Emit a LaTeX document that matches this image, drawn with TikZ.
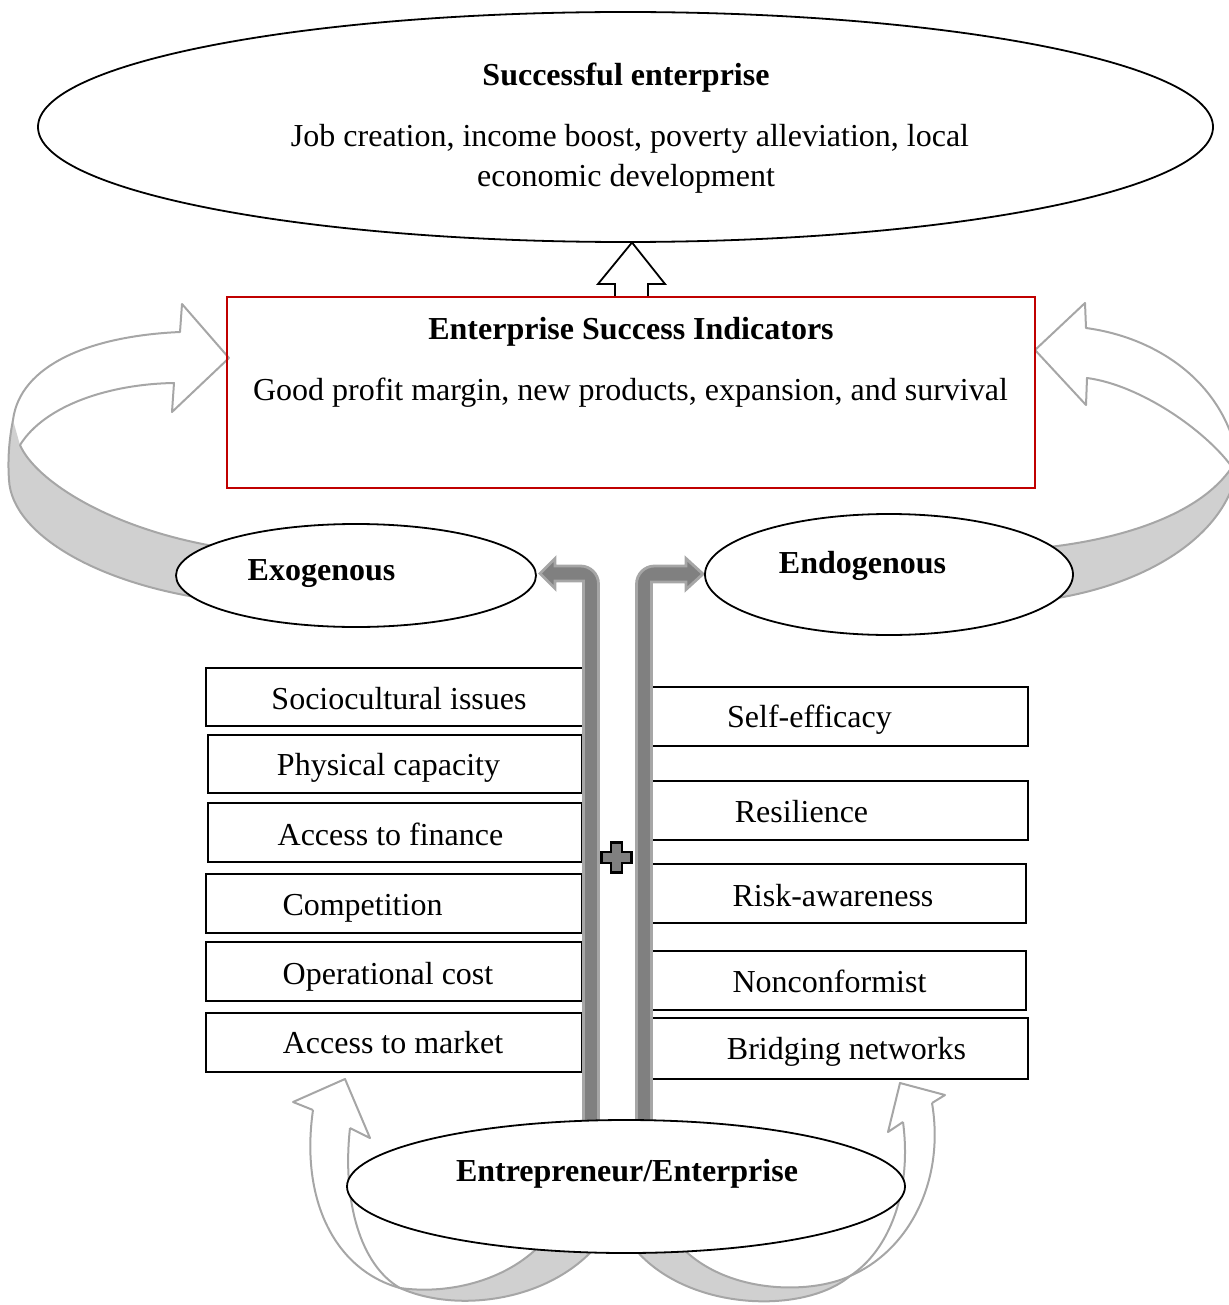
\documentclass[tikz,border=0pt]{standalone}
\usepackage{fontspec}
\setmainfont{Liberation Serif}
\usetikzlibrary{shapes.geometric}
\definecolor{ribbonline}{HTML}{A6A6A6}
\definecolor{bandfill}{HTML}{D0D0D0}
\definecolor{bardark}{HTML}{808080}
\definecolor{barlight}{HTML}{A6A6A6}
\definecolor{boxred}{HTML}{C00000}

\begin{document}
\begin{tikzpicture}[x=0.5pt,y=-0.5pt,
  every node/.style={font=\fontsize{16}{20.5}\selectfont},
  oval/.style={ellipse, draw=black, line width=0.9pt, fill=white, inner sep=0pt},
  factor/.style={rectangle, draw=black, line width=0.8pt, inner sep=0pt},
  lbl/.style={anchor=base, inner sep=0pt},
  hd/.style={lbl, font=\fontsize{16}{20.5}\selectfont\bfseries},
  rib/.style={draw=ribbonline, line width=1pt, line join=round},
  band/.style={fill=bandfill},
  bar/.style={fill=bardark, draw=barlight, line width=1.4pt, line join=miter},
]
\useasboundingbox (0,0) rectangle (1229,1305);

\begin{scope}
\clip (0,0) rectangle (1229,1305);
% ribbon from the exogenous factors up to the indicators
\fill[band] (13,420) .. controls (8,445) and (8,465) .. (9,480) .. controls (12,535) and (100,585) .. (215,600) -- (225,548) .. controls (110,530) and (35,480) .. (20,445) -- cycle;
\draw[rib] (13,420) .. controls (8,445) and (8,465) .. (9,480) .. controls (12,535) and (100,585) .. (215,600);
\draw[rib] (225,548) .. controls (110,530) and (35,480) .. (20,445);
\draw[rib] (13,420) .. controls (20,365) and (90,336) .. (180,332) -- (182,304) -- (229,358) -- (172,412) -- (174,383) .. controls (110,384) and (45,405) .. (20,445);

% ribbon from the endogenous factors up to the indicators
\fill[band] (1232,467) -- (1236,475) .. controls (1222,535) and (1150,585) .. (1045,600) -- (1040,548) .. controls (1120,540) and (1200,515) .. (1232,467) -- cycle;
\draw[rib] (1236,475) .. controls (1222,535) and (1150,585) .. (1045,600);
\draw[rib] (1040,548) .. controls (1120,540) and (1200,515) .. (1232,467);
\draw[rib] (1238,460) .. controls (1225,385) and (1160,338) .. (1086,328) -- (1085,303) -- (1035,350) -- (1086,405) -- (1087,378) .. controls (1140,385) and (1205,430) .. (1232,467);

% ribbon from the entrepreneur to the exogenous factors
\fill[band] (400,1288) .. controls (460,1315) and (560,1300) .. (605,1235) -- (545,1240) .. controls (510,1280) and (450,1295) .. (400,1288) -- cycle;
\draw[rib] (313,1110) .. controls (300,1200) and (335,1270) .. (400,1288) .. controls (460,1315) and (560,1300) .. (605,1235);
\draw[rib] (350,1128) .. controls (342,1200) and (360,1265) .. (400,1288) .. controls (450,1295) and (510,1280) .. (545,1240);
\draw[rib] (313,1110) -- (293,1102) -- (345,1079) -- (370,1138) -- (350,1128);

% ribbon from the entrepreneur to the endogenous factors
\fill[band] (850,1276) .. controls (800,1318) and (670,1310) .. (625,1235) -- (675,1240) .. controls (720,1295) and (810,1295) .. (850,1276) -- cycle;
\draw[rib] (932,1103) .. controls (945,1180) and (910,1250) .. (850,1276) .. controls (800,1318) and (670,1310) .. (625,1235);
\draw[rib] (903,1122) .. controls (912,1190) and (890,1250) .. (850,1276) .. controls (810,1295) and (720,1295) .. (675,1240);
\draw[rib] (932,1103) -- (945,1095) -- (900,1083) -- (888,1132) -- (903,1122);
\end{scope}

% exogenous factor boxes
\node[factor, minimum width=189pt, minimum height=29pt]   (l1) at (395,697) {};
\node[factor, minimum width=187pt, minimum height=29pt]   (l2) at (395,764) {};
\node[factor, minimum width=187pt, minimum height=29.5pt] (l3) at (395,832.5) {};
\node[factor, minimum width=188pt, minimum height=29.5pt] (l4) at (394,903.5) {};
\node[factor, minimum width=188pt, minimum height=29.5pt] (l5) at (394,971.5) {};
\node[factor, minimum width=188pt, minimum height=29.5pt] (l6) at (394,1042.5) {};
% endogenous factor boxes
\node[factor, minimum width=188pt, minimum height=29.5pt] (r1) at (840,716.5) {};
\node[factor, minimum width=188pt, minimum height=29.5pt] (r2) at (840,810.5) {};
\node[factor, minimum width=187pt, minimum height=29.5pt] (r3) at (839,893.5) {};
\node[factor, minimum width=187pt, minimum height=29.5pt] (r4) at (839,980.5) {};
\node[factor, minimum width=188pt, minimum height=30.5pt] (r5) at (840,1048.5) {};

\node[lbl] (l1t) at (399,709)   {Sociocultural issues};
\node[lbl] (l2t) at (388.5,775) {Physical capacity};
\node[lbl] (l3t) at (390.5,845) {Access to finance};
\node[lbl] (l4t) at (362.5,915) {Competition};
\node[lbl] (l5t) at (388,984)   {Operational cost};
\node[lbl] (l6t) at (393,1053)  {Access to market};
\node[lbl] (r1t) at (809.5,727) {Self-efficacy};
\node[lbl] (r2t) at (801.5,822) {Resilience};
\node[lbl] (r3t) at (833,906)   {Risk-awareness};
\node[lbl] (r4t) at (829.5,992) {Nonconformist};
\node[lbl] (r5t) at (846.5,1059) {Bridging networks};

% grey bent arrows rising from the entrepreneur
\draw[bar] (583.5,1150) -- (583.5,581) -- (555,581) -- (555,588.5) -- (540,573.5) -- (555,558.5) -- (555,566) -- (580.5,566) .. controls (590.5,566) and (598.5,574) .. (598.5,584) -- (598.5,1150) -- cycle;
\draw[bar] (651.5,1150) -- (651.5,582) -- (686,582) -- (686,589.5) -- (703,574) -- (686,558.5) -- (686,566) -- (654.5,566) .. controls (644.5,566) and (636.5,574) .. (636.5,584) -- (636.5,1150) -- cycle;

% plus sign between the two arrows
\draw[fill=bardark, draw=black, line width=1.1pt] (611,842.5) -- (622,842.5) -- (622,852) -- (631.5,852) -- (631.5,863) -- (622,863) -- (622,872.5) -- (611,872.5) -- (611,863) -- (601.5,863) -- (601.5,852) -- (611,852) -- cycle;

% ovals
\node[oval, minimum width=180pt, minimum height=51.5pt] (exo)  at (356,575.5) {};
\node[oval, minimum width=184pt, minimum height=60.5pt] (endo) at (889,574.5) {};
\node[oval, minimum width=279pt, minimum height=66.5pt] (ent)  at (626,1186.5) {};
\node[oval, minimum width=587.5pt, minimum height=115pt] (succ) at (625.5,127) {};

\node[hd] (exot)  at (321.5,580) {Exogenous};
\node[hd] (endot) at (862.5,573) {Endogenous};
\node[hd] (entt)  at (627,1181)  {Entrepreneur/Enterprise};

\node[hd]  (succt) at (626,86)  {Successful enterprise};
\node[lbl] (succa) at (630,147) {Job creation, income boost, poverty alleviation, local};
\node[lbl] (succb) at (626,187) {economic development};

% block arrow from the indicators to the outcome
\draw[fill=white, draw=black, line width=0.9pt, line join=miter] (615,297) -- (615,284) -- (598,284) -- (632,242.5) -- (665,284) -- (648,284) -- (648,297) -- cycle;

% success indicators
\node[draw=boxred, line width=0.8pt, minimum width=404pt, minimum height=95.5pt, inner sep=0pt] (ind) at (631,392.5) {};
\node[hd]  (indt) at (631,339)   {Enterprise Success Indicators};
\node[lbl] (inda) at (630.5,400) {Good profit margin, new products, expansion, and survival};
\end{tikzpicture}
\end{document}
